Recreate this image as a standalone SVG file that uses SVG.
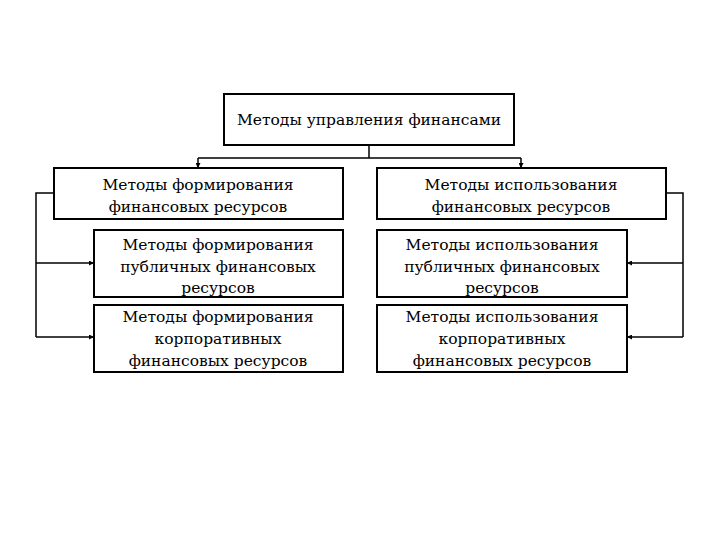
<svg xmlns="http://www.w3.org/2000/svg" width="720" height="540" viewBox="0 0 720 540">
<style>
.box{fill:#fff;stroke:#000;stroke-width:2}
.t{font-family:"DejaVu Serif","Liberation Serif",serif;font-size:15.5px;fill:#000;text-anchor:middle}
.c{fill:none;stroke:#000;stroke-width:1.5}
</style>
<defs>
<marker id="ah" viewBox="0 0 10 10" refX="10" refY="5" markerWidth="5" markerHeight="5" orient="auto" markerUnits="userSpaceOnUse">
<path d="M0,0 L10,5 L0,10 z" fill="#000"/>
</marker>
</defs>
<rect width="720" height="540" fill="#fff"/>
<g id="connectors">
<path class="c" d="M369,145 V158"/>
<path class="c" d="M198,158 H521"/>
<path class="c" d="M198,158 V168" marker-end="url(#ah)"/>
<path class="c" d="M521,158 V168" marker-end="url(#ah)"/>
<path class="c" d="M54,193 H36 V337"/>
<path class="c" d="M36,263 H94" marker-end="url(#ah)"/>
<path class="c" d="M36,337 H94" marker-end="url(#ah)"/>
<path class="c" d="M666,193 H683 V337"/>
<path class="c" d="M683,263 H627" marker-end="url(#ah)"/>
<path class="c" d="M683,337 H627" marker-end="url(#ah)"/>
</g>
<g id="top">
<rect class="box" x="224" y="94" width="290" height="51"/>
<text class="t" x="369" y="125">Методы управления финансами</text>
</g>
<g id="L1">
<rect class="box" x="54" y="168" width="289" height="51"/>
<text class="t" x="198" y="190">Методы формирования</text>
<text class="t" x="198" y="212">финансовых ресурсов</text>
</g>
<g id="R1">
<rect class="box" x="377" y="168" width="289" height="51"/>
<text class="t" x="521" y="190">Методы использования</text>
<text class="t" x="521" y="212">финансовых ресурсов</text>
</g>
<g id="L2">
<rect class="box" x="94" y="230" width="249" height="67"/>
<text class="t" x="218" y="250">Методы формирования</text>
<text class="t" x="218" y="272">публичных финансовых</text>
<text class="t" x="218" y="293">ресурсов</text>
</g>
<g id="L3">
<rect class="box" x="94" y="305" width="249" height="67"/>
<text class="t" x="218" y="322">Методы формирования</text>
<text class="t" x="218" y="344">корпоративных</text>
<text class="t" x="218" y="366">финансовых ресурсов</text>
</g>
<g id="R2">
<rect class="box" x="377" y="230" width="250" height="67"/>
<text class="t" x="502" y="250">Методы использования</text>
<text class="t" x="502" y="272">публичных финансовых</text>
<text class="t" x="502" y="293">ресурсов</text>
</g>
<g id="R3">
<rect class="box" x="377" y="305" width="250" height="67"/>
<text class="t" x="502" y="322">Методы использования</text>
<text class="t" x="502" y="344">корпоративных</text>
<text class="t" x="502" y="366">финансовых ресурсов</text>
</g>
</svg>
